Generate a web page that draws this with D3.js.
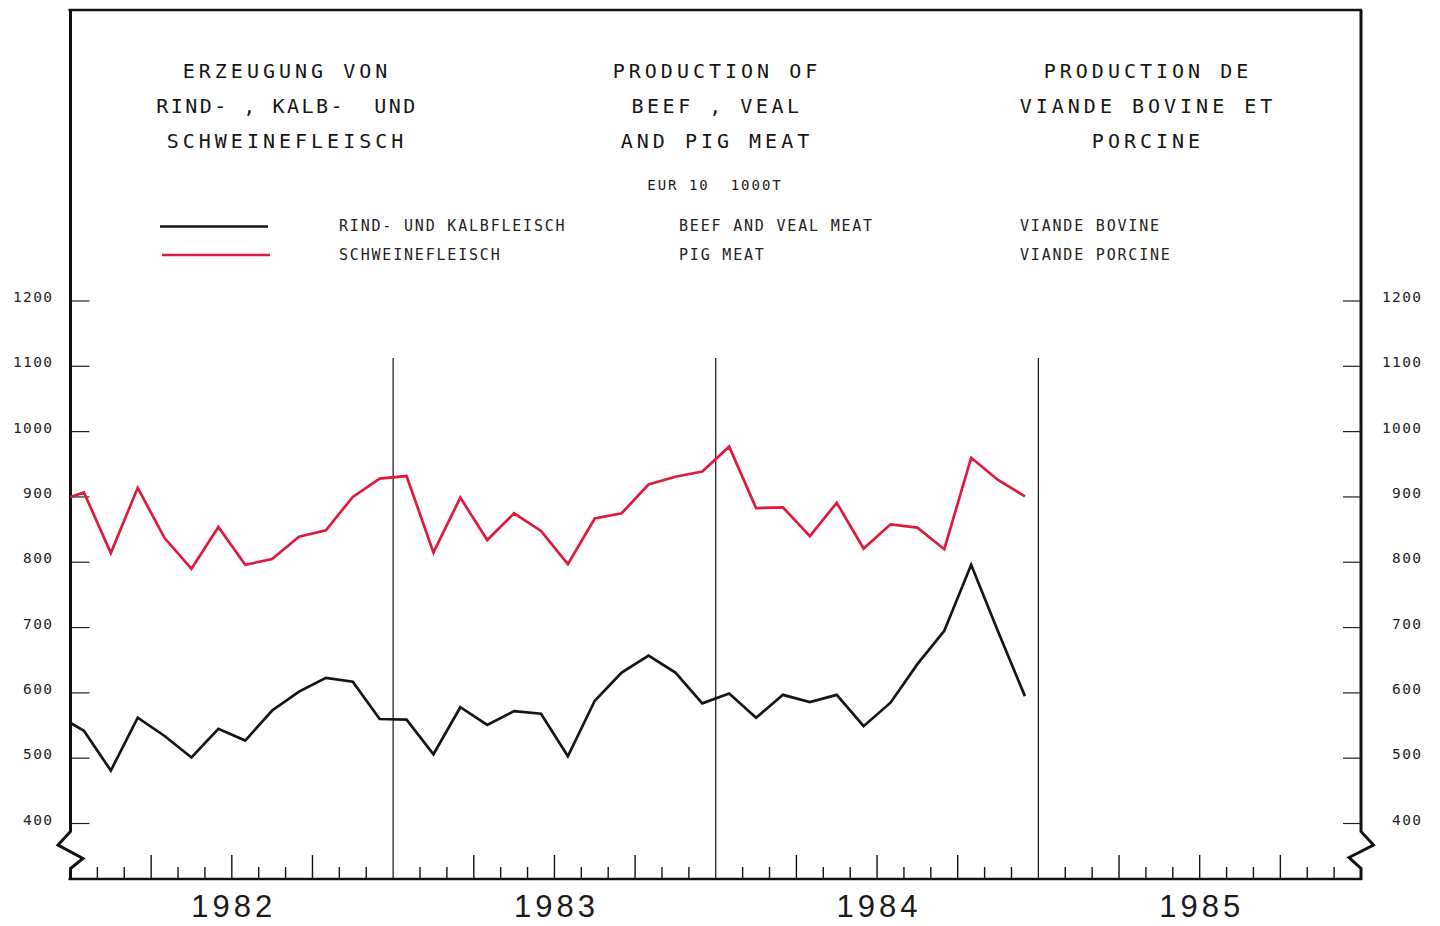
<!DOCTYPE html>
<html>
<head>
<meta charset="utf-8">
<script src="https://cdn.jsdelivr.net/npm/d3@7/dist/d3.min.js"></script>
<style>
  html, body { margin: 0; padding: 0; background: #ffffff; }
  svg { display: block; }
</style>
</head>
<body>
<svg id="chart" width="1440" height="926"></svg>
<script>
// ---- data ----
const years = ["1982", "1983", "1984", "1985"];
// monthly points: Dec 1981, then Jan 1982 .. Dec 1984
const monthIndex = d3.range(-1, 36);
const beefVeal = [566,
  542, 481, 562, 534, 501, 545, 527, 573, 602, 623, 617, 560,
  559, 506, 578, 551, 572, 568, 503, 588, 631, 657, 631, 584,
  599, 562, 597, 586, 597, 549, 585, 644, 695, 796, 694, 595];
const pigMeat = [893,
  907, 814, 914, 837, 790, 854, 796, 805, 839, 849, 900, 928,
  932, 815, 899, 834, 875, 848, 797, 867, 875, 919, 931, 939,
  977, 883, 884, 840, 891, 821, 858, 853, 820, 960, 926, 901];
const yTicks = [400, 500, 600, 700, 800, 900, 1000, 1100, 1200];
const titleDE = ["ERZEUGUNG VON", "RIND- , KALB-  UND", "SCHWEINEFLEISCH"];
const titleEN = ["PRODUCTION OF", "BEEF , VEAL", "AND PIG MEAT"];
const titleFR = ["PRODUCTION DE", "VIANDE BOVINE ET", "PORCINE"];
const unitLabel = "EUR 10  1000T";
const legendDE = ["RIND- UND KALBFLEISCH", "SCHWEINEFLEISCH"];
const legendEN = ["BEEF AND VEAL MEAT", "PIG MEAT"];
const legendFR = ["VIANDE BOVINE", "VIANDE PORCINE"];
const seriesColors = ["#151515", "#e01a3c"];

// ---- layout ----
const svg = d3.select("#chart");
const fLeft = 70.5, fRight = 1361, fTop = 10, fBottom = 879;
const x = d3.scaleLinear().domain([0, 48]).range([fLeft, fRight]);
const y = d3.scaleLinear().domain([400, 1200]).range([823.5, 301]);

const monoFont = "'DejaVu Sans Mono', 'Liberation Mono', monospace";

// clip for data lines
svg.append("defs").append("clipPath").attr("id", "plotclip")
  .append("rect").attr("x", fLeft).attr("y", fTop).attr("width", fRight - fLeft).attr("height", fBottom - fTop);

// ---- frame ----
const frame = svg.append("g").attr("fill", "none").attr("stroke", "#111").attr("stroke-linejoin", "miter");
frame.append("line").attr("x1", fLeft - 2).attr("x2", fRight + 1).attr("y1", fTop).attr("y2", fTop).attr("stroke-width", 2.6);
frame.append("line").attr("x1", fLeft - 2).attr("x2", fRight + 1).attr("y1", fBottom).attr("y2", fBottom).attr("stroke-width", 2.4);
const yb = y(400);
frame.append("path").attr("stroke-width", 3)
  .attr("d", d3.line()([[fLeft, fTop], [fLeft, yb + 8], [fLeft - 12.5, yb + 21.5], [fLeft + 12.5, yb + 35], [fLeft, yb + 45], [fLeft, fBottom + 1]]));
frame.append("path").attr("stroke-width", 3)
  .attr("d", d3.line()([[fRight, fTop], [fRight, yb + 8], [fRight + 12.5, yb + 21.5], [fRight - 12, yb + 34], [fRight, yb + 45], [fRight, fBottom + 1]]));

// y ticks + labels
const yt = svg.append("g");
yTicks.forEach(v => {
  yt.append("line").attr("x1", fLeft).attr("x2", fLeft + 19).attr("y1", y(v)).attr("y2", y(v))
    .attr("stroke", "#222").attr("stroke-width", 1.2);
  yt.append("line").attr("x1", fRight - 18).attr("x2", fRight).attr("y1", y(v)).attr("y2", y(v))
    .attr("stroke", "#222").attr("stroke-width", 1.2);
  yt.append("text").attr("x", 53.5).attr("y", y(v) + 1).attr("text-anchor", "end")
    .attr("font-family", monoFont).attr("font-size", 14.5).attr("letter-spacing", 1.4)
    .attr("fill", "#222").text(v);
  yt.append("text").attr("x", 1422.5).attr("y", y(v) + 1).attr("text-anchor", "end")
    .attr("font-family", monoFont).attr("font-size", 14.5).attr("letter-spacing", 1.4)
    .attr("fill", "#222").text(v);
});

// month ticks
const xt = svg.append("g").attr("stroke", "#111").attr("stroke-width", 1.4);
d3.range(1, 48).forEach(m => {
  if (m % 12 === 0) return;
  const len = (m % 3 === 0) ? 24 : 12;
  xt.append("line").attr("x1", x(m)).attr("x2", x(m)).attr("y1", fBottom).attr("y2", fBottom - len);
});
// year separators
[12, 24, 36].forEach(m => {
  svg.append("line").attr("x1", x(m)).attr("x2", x(m)).attr("y1", 358).attr("y2", fBottom)
    .attr("stroke", "#111").attr("stroke-width", 1.2);
});
// year labels
years.forEach((yr, i) => {
  svg.append("text").attr("x", x(i * 12 + 6) + 2).attr("y", 917).attr("text-anchor", "middle")
    .attr("font-family", "'Liberation Sans', Arial, sans-serif").attr("font-size", 31)
    .attr("letter-spacing", 4).attr("fill", "#1a1a1a").text(yr);
});

// ---- titles ----
function block(lines, cx, spacings) {
  lines.forEach((t, i) => {
    svg.append("text").attr("x", cx + 2).attr("y", 78 + i * 35).attr("text-anchor", "middle")
      .attr("font-family", monoFont).attr("font-size", 20).attr("letter-spacing", spacings[i])
      .attr("fill", "#151515").style("white-space", "pre").text(t);
  });
}
block(titleDE, 285, [4, 2.5, 4]);
block(titleEN, 715, [4, 3.5, 4]);
block(titleFR, 1146, [4, 4, 4]);
svg.append("text").attr("x", 715).attr("y", 190).attr("text-anchor", "middle")
  .attr("font-family", monoFont).attr("font-size", 14).attr("letter-spacing", 2)
  .attr("fill", "#1a1a1a").style("white-space", "pre").text(unitLabel);

// ---- legend ----
[0, 1].forEach(i => {
  const ly = 226.5 + i * 28.5;
  svg.append("line").attr("x1", 160 + i * 2).attr("x2", 268 + i * 2).attr("y1", ly).attr("y2", ly)
    .attr("stroke", seriesColors[i]).attr("stroke-width", 2.6);
  [[339, legendDE], [679, legendEN], [1020, legendFR]].forEach(([lx, arr]) => {
    svg.append("text").attr("x", lx).attr("y", ly + 4.5)
      .attr("font-family", monoFont).attr("font-size", 15).attr("letter-spacing", 1.8)
      .attr("fill", "#222").text(arr[i]);
  });
});

// ---- data lines ----
const lineGen = d3.line().x(d => x(d[0] + 0.5)).y(d => y(d[1]));
const g = svg.append("g").attr("clip-path", "url(#plotclip)");
[beefVeal, pigMeat].forEach((vals, i) => {
  g.append("path").datum(monthIndex.map((m, k) => [m, vals[k]]))
    .attr("d", lineGen).attr("fill", "none").attr("stroke", seriesColors[i])
    .attr("stroke-width", 2.7).attr("stroke-linejoin", "miter");
});
</script>
</body>
</html>
